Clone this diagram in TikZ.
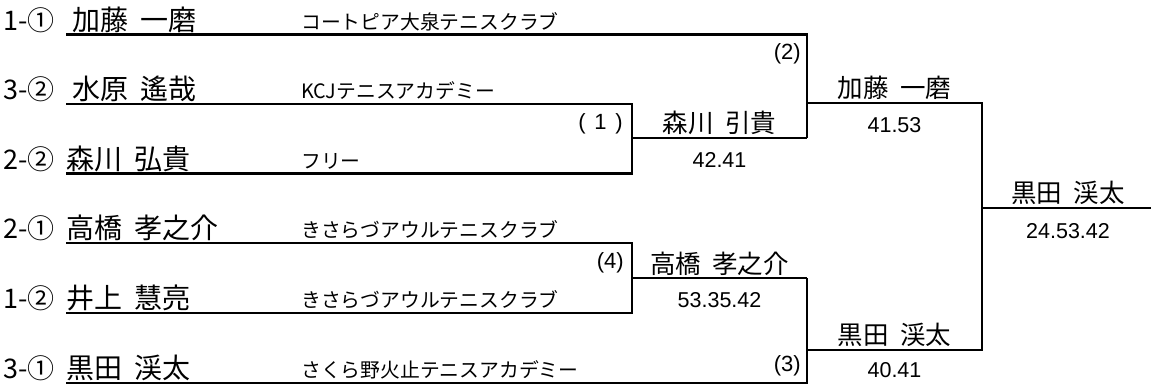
\documentclass[tikz,border=0pt]{standalone}
\usepackage{fontspec}
\setmainfont{Liberation Sans}
\newfontfamily\jp{Noto Sans CJK JP}
\newcommand\gap{\hspace{0.45em}}
\newcommand\pgap{\hspace{0.4em}}
\begin{document}
\begin{tikzpicture}[x=1pt,y=-1pt,
  bline/.style={line width=2.9pt, line join=miter, line cap=butt},
  seed/.style={anchor=base west, inner sep=0, font=\jp\fontsize{27}{27}\selectfont},
  pname/.style={anchor=base west, inner sep=0, font=\jp\fontsize{28}{28}\selectfont},
  club/.style={anchor=base west, inner sep=0, font=\jp\fontsize{19.8}{19.8}\selectfont},
  wname/.style={anchor=base, inner sep=0, font=\jp\fontsize{25.5}{25.5}\selectfont},
  score/.style={anchor=base, inner sep=0, font=\fontsize{21.5}{21.5}\selectfont},
  mnum/.style={anchor=base east, inner sep=0, font=\fontsize{22}{22}\selectfont},
]
\useasboundingbox (0,0) rectangle (1151,386);
% row lines: start points
\coordinate (s1) at (66,34.5);
\coordinate (s2) at (66,104);
\coordinate (s3) at (66,173.5);
\coordinate (s4) at (66,243);
\coordinate (s5) at (66,313);
\coordinate (s6) at (66,383);
% match joints
\coordinate (m1a) at (632,104);
\coordinate (m1b) at (632,173.5);
\coordinate (m1o) at (632,138);
\coordinate (m4a) at (632,243);
\coordinate (m4b) at (632,313);
\coordinate (m4o) at (632,278);
\coordinate (m2a) at (807,34.5);
\coordinate (m2b) at (807,138);
\coordinate (m2o) at (807,103);
\coordinate (m3a) at (807,278);
\coordinate (m3b) at (807,383);
\coordinate (m3o) at (807,350);
\coordinate (fa) at (982,103);
\coordinate (fb) at (982,350);
\coordinate (fo) at (982,208);
\coordinate (fe) at (1151,208);

% bracket lines
\draw[bline] (s2) -- (m1a) -- (m1b) -- (s3);
\draw[bline] (m1o) -- (m2b);
\draw[bline] (s1) -- (m2a) -- (m2b);
\draw[bline] (s4) -- (m4a) -- (m4b) -- (s5);
\draw[bline] (m4o) -- (m3a);
\draw[bline] (s6) -- (m3b) -- (m3a);
\draw[bline] (m2o) -- (fa) -- (fb) -- (m3o);
\draw[bline] (fo) -- (fe);

% seeds
\node[seed] (p1) at (3,30) {1-①};
\node[seed] (p2) at (3,99.5) {3-②};
\node[seed] (p3) at (3,169) {2-②};
\node[seed] (p4) at (3,238.5) {2-①};
\node[seed] (p5) at (3,308.5) {1-②};
\node[seed] (p6) at (3,378.5) {3-①};
% names
\node[pname] (n1) at (72,30) {加藤\gap 一磨};
\node[pname] (n2) at (72,99.5) {水原\gap 遙哉};
\node[pname] (n3) at (66,169) {森川\gap 弘貴};
\node[pname] (n4) at (66,238.5) {高橋\gap 孝之介};
\node[pname] (n5) at (66,308.5) {井上\gap 慧亮};
\node[pname] (n6) at (66,378.5) {黒田\gap 渓太};
% clubs
\node[club] (c1) at (301,29) {コートピア大泉テニスクラブ};
\node[club] (c2) at (301,98.5) {KCJテニスアカデミー};
\node[club] (c3) at (301,168) {フリー};
\node[club] (c4) at (301,237.5) {きさらづアウルテニスクラブ};
\node[club] (c5) at (301,307.5) {きさらづアウルテニスクラブ};
\node[club] (c6) at (301,377.5) {さくら野火止テニスアカデミー};
% match numbers
\node[mnum] (k1) at (623,129) {(\pgap 1\pgap)};
\node[mnum] (k2) at (801,59) {(2)};
\node[mnum] (k4) at (624,268) {(4)};
\node[mnum] (k3) at (801,371) {(3)};
% winners
\node[wname] (w1) at (719.5,132) {森川\gap 引貴};
\node[score] (t1) at (719.5,167) {42.41};
\node[wname] (w2) at (894.5,97) {加藤\gap 一磨};
\node[score] (t2) at (894.5,132) {41.53};
\node[wname] (w4) at (719.5,273) {高橋\gap 孝之介};
\node[score] (t4) at (719.5,307) {53.35.42};
\node[wname] (w3) at (894.5,344.5) {黒田\gap 渓太};
\node[score] (t3) at (894.5,377) {40.41};
\node[wname] (wf) at (1068,202.5) {黒田\gap 渓太};
\node[score] (tf) at (1068,238) {24.53.42};
\end{tikzpicture}
\end{document}
